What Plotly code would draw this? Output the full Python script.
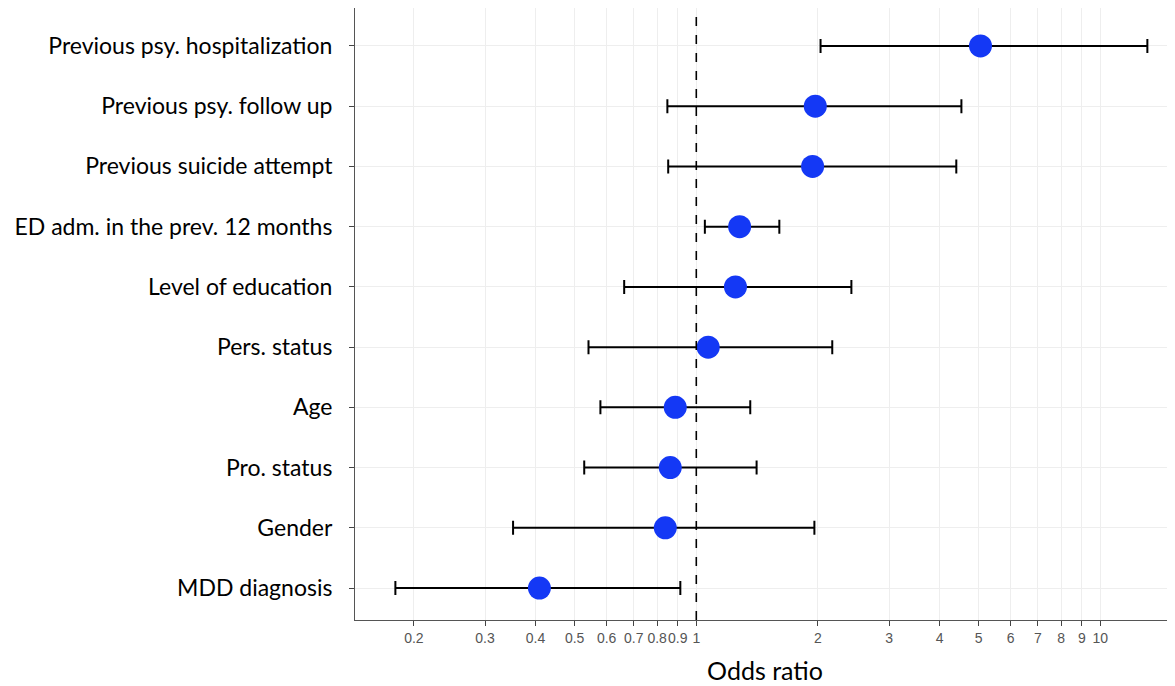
import plotly.graph_objects as go
import math

categories = ["Previous psy. hospitalization", "Previous psy. follow up", "Previous suicide attempt",
              "ED adm. in the prev. 12 months", "Level of education", "Pers. status", "Age",
              "Pro. status", "Gender", "MDD diagnosis"]
odds = [5.05, 1.97, 1.94, 1.28, 1.25, 1.07, 0.887, 0.862, 0.838, 0.409]
ci_low = [2.03, 0.848, 0.852, 1.05, 0.663, 0.541, 0.579, 0.528, 0.352, 0.180]
ci_high = [13.07, 4.53, 4.40, 1.605, 2.42, 2.17, 1.36, 1.41, 1.96, 0.913]
tick_vals = [0.2, 0.3, 0.4, 0.5, 0.6, 0.7, 0.8, 0.9, 1, 2, 3, 4, 5, 6, 7, 8, 9, 10]
tick_text = ["0.2", "0.3", "0.4", "0.5", "0.6", "0.7", "0.8", "0.9", "1", "2", "3", "4", "5", "6", "7", "8", "9", "10"]

n = len(categories)
ypos = [n - 1 - i for i in range(n)]

fig = go.Figure()
fig.add_trace(go.Scatter(
    x=odds, y=ypos, mode="markers",
    marker=dict(size=23, color="#1438f5"),
    error_x=dict(type="data", symmetric=False,
                 array=[h - o for h, o in zip(ci_high, odds)],
                 arrayminus=[o - l for o, l in zip(odds, ci_low)],
                 color="black", thickness=2, width=7),
    showlegend=False, hoverinfo="x+y"))

fig.add_shape(type="line", x0=1, x1=1, xref="x", y0=0, y1=1, yref="paper",
              line=dict(color="black", width=1.6, dash="dash"))

fig.update_layout(
    width=1175, height=686,
    margin=dict(l=347, r=8, t=0, b=74),
    paper_bgcolor="white", plot_bgcolor="white",
    xaxis=dict(type="log", range=[math.log10(0.143), math.log10(15.3)],
               tickvals=tick_vals, ticktext=tick_text, tickangle=0,
               ticks="outside", ticklen=5, tickcolor="#444",
               tickfont=dict(family="Liberation Sans Narrow, Liberation Sans", size=14, color="#555"),
               showgrid=True, gridcolor="#eeeeee", gridwidth=1,
               showline=True, linecolor="#555", linewidth=1, mirror=True,
               zeroline=False, automargin=False,
               title=dict(text="Odds ratio", font=dict(family="Lato", size=25, color="black"), standoff=17)),
    yaxis=dict(range=[-0.53, 9.63], tickvals=ypos, ticktext=categories,
               ticks="outside", ticklen=5, tickcolor="#444", ticklabelstandoff=12,
               tickfont=dict(family="Lato", size=23, color="black"),
               showgrid=True, gridcolor="#eeeeee", gridwidth=1,
               showline=True, linecolor="#555", linewidth=1, mirror=True,
               zeroline=False, automargin=False),
)

fig.write_html("out.html")
